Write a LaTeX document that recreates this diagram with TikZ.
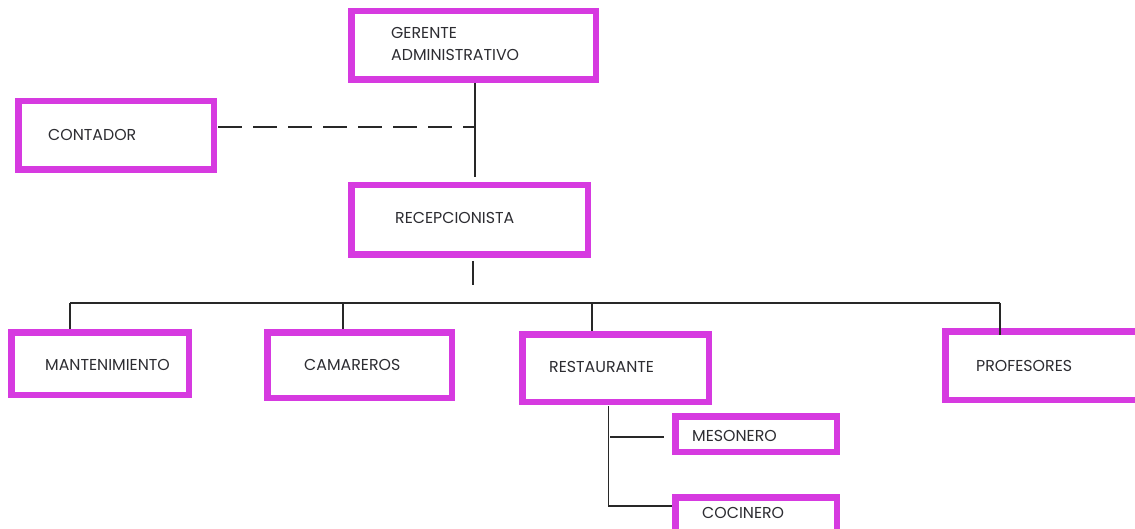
\documentclass[tikz,border=0pt]{standalone}
\usepackage{fontspec}
\setmainfont{Poppins}
\definecolor{boxmag}{RGB}{214,58,224}
\definecolor{linegray}{RGB}{40,40,40}
\definecolor{txtgray}{RGB}{45,45,50}
\begin{document}
\begin{tikzpicture}[x=1pt,y=-1pt,
  orgbox/.style={draw=boxmag,line width=6.5pt,rectangle,inner sep=0pt,fill=white},
  lbl/.style={anchor=west,inner sep=0pt,font=\fontsize{15.8}{22}\selectfont,text=txtgray,align=left},
  conn/.style={draw=linegray,line width=1.3pt}]
\useasboundingbox (0,0) rectangle (1135,529);
% boxes: (center) minimum width/height = outer - 6.5
\node[orgbox,minimum width=244.5pt,minimum height=68.5pt] (ger) at (473.5,45.5) {};
\node[orgbox,minimum width=195.5pt,minimum height=68.5pt] (cont) at (116,135.5) {};
\node[orgbox,minimum width=236.5pt,minimum height=69.5pt] (rec) at (469.5,220) {};
\node[orgbox,minimum width=177.5pt,minimum height=62.5pt] (mant) at (100,363.5) {};
\node[orgbox,minimum width=184.5pt,minimum height=65.5pt] (cam) at (359.5,365) {};
\node[orgbox,minimum width=186.5pt,minimum height=67.5pt] (rest) at (615.5,368) {};
\node[orgbox,minimum width=200pt,minimum height=68.5pt] (prof) at (1045.5,365.5) {};
\node[orgbox,minimum width=161.5pt,minimum height=35.5pt] (meso) at (756,434) {};
\node[orgbox,minimum width=161.5pt,minimum height=44pt] (coc) at (756,519.5) {};
% labels
\node[lbl] (gerT) at (391,44) {GERENTE\\ADMINISTRATIVO};
\node[lbl] (contT) at (48,135) {CONTADOR};
\node[lbl] (recT) at (395,218) {RECEPCIONISTA};
\node[lbl] (mantT) at (45,365) {MANTENIMIENTO};
\node[lbl] (camT) at (304,365) {CAMAREROS};
\node[lbl] (restT) at (549,367) {RESTAURANTE};
\node[lbl] (profT) at (976,366) {PROFESORES};
\node[lbl] (mesoT) at (692,436) {MESONERO};
\node[lbl] (cocT) at (702,513) {COCINERO};
% connector coordinates
\coordinate (j1) at (475,127);
\coordinate (j1b) at (475,177);
\coordinate (r1) at (473,285);
\coordinate (busL) at (70,303);
\coordinate (busR) at (1000,303);
\coordinate (camTop) at (343,303);
\coordinate (restTop) at (592,303);
\coordinate (subTop) at (608.5,406);
\coordinate (subBot) at (608.5,506);
\coordinate (mesoL) at (610,437);
\coordinate (mesoR) at (664,437);
% connectors
\draw[conn] (ger.south -| j1) -- (j1b);
\draw[conn,dash pattern=on 24pt off 11pt] (cont.east |- j1) ++(1,0) -- (j1);
\draw[conn] (rec.south -| r1) ++(0,3) -- (r1);
\draw[conn] (busL) -- (busR);
\draw[conn] (busL) -- (busL |- mant.north);
\draw[conn] (camTop) -- (camTop |- cam.north);
\draw[conn] (restTop) -- (restTop |- rest.north);
\draw[conn] (busR) -- ++(0,32);
\draw[conn] (subTop) -- (subBot) -- (coc.west |- subBot);
\draw[conn] (mesoL) -- (mesoR);
\end{tikzpicture}
\end{document}
